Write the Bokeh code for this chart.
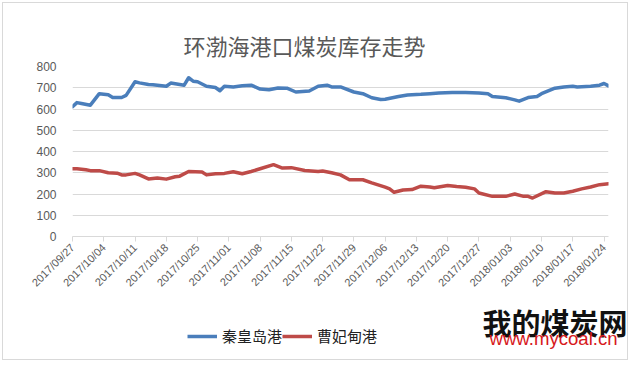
import math
import pandas as pd
from bokeh.plotting import figure
from bokeh.layouts import column
from bokeh.models import FixedTicker, Legend, LegendItem, Label, Range1d
from bokeh.embed import file_html
from bokeh.resources import INLINE

# ---- data ----
start_date = "2017-09-27"

qhd_dates = ["2017-09-27", "2017-09-28", "2017-09-29", "2017-10-01", "2017-10-03", "2017-10-05",
             "2017-10-06", "2017-10-08", "2017-10-09", "2017-10-11", "2017-10-12", "2017-10-14",
             "2017-10-15", "2017-10-18", "2017-10-19", "2017-10-22", "2017-10-23", "2017-10-24",
             "2017-10-25", "2017-10-27", "2017-10-29", "2017-10-30", "2017-10-31", "2017-11-02",
             "2017-11-04", "2017-11-06", "2017-11-08", "2017-11-10", "2017-11-12", "2017-11-14",
             "2017-11-16", "2017-11-19", "2017-11-21", "2017-11-23", "2017-11-24", "2017-11-26",
             "2017-11-29", "2017-12-01", "2017-12-03", "2017-12-05", "2017-12-06", "2017-12-09",
             "2017-12-11", "2017-12-14", "2017-12-16", "2017-12-18", "2017-12-21", "2017-12-24",
             "2017-12-27", "2017-12-29", "2017-12-30", "2018-01-02", "2018-01-04", "2018-01-05",
             "2018-01-07", "2018-01-09", "2018-01-10", "2018-01-13", "2018-01-15", "2018-01-17",
             "2018-01-18", "2018-01-20", "2018-01-21", "2018-01-23", "2018-01-24", "2018-01-25"]
qhd_values = [611, 630, 626, 618, 672, 667,
              654, 654, 664, 728, 723, 715,
              714, 707, 722, 712, 747, 731,
              728, 707, 701, 686, 707, 704,
              709, 712, 694, 691, 699, 698,
              680, 685, 707, 712, 704, 704,
              680, 672, 653, 645, 646, 659,
              666, 669, 672, 675, 678, 678,
              675, 672, 659, 653, 643, 637,
              654, 659, 672, 698, 704, 707,
              704, 706, 707, 712, 720, 709]

cfd_dates = ["2017-09-27", "2017-09-28", "2017-09-30", "2017-10-01", "2017-10-03", "2017-10-05",
             "2017-10-07", "2017-10-08", "2017-10-09", "2017-10-11", "2017-10-12", "2017-10-14",
             "2017-10-16", "2017-10-18", "2017-10-20", "2017-10-21", "2017-10-23", "2017-10-26",
             "2017-10-27", "2017-10-29", "2017-10-31", "2017-11-02", "2017-11-04", "2017-11-06",
             "2017-11-08", "2017-11-11", "2017-11-13", "2017-11-15", "2017-11-18", "2017-11-21",
             "2017-11-22", "2017-11-24", "2017-11-26", "2017-11-28", "2017-12-01", "2017-12-03",
             "2017-12-06", "2017-12-07", "2017-12-08", "2017-12-10", "2017-12-12", "2017-12-14",
             "2017-12-16", "2017-12-17", "2017-12-20", "2017-12-22", "2017-12-24", "2017-12-26",
             "2017-12-27", "2017-12-30", "2018-01-02", "2018-01-04", "2018-01-06", "2018-01-07",
             "2018-01-08", "2018-01-11", "2018-01-13", "2018-01-15", "2018-01-17", "2018-01-19",
             "2018-01-21", "2018-01-23", "2018-01-25"]
cfd_values = [319, 319, 314, 310, 310, 300,
              298, 290, 290, 297, 290, 271,
              275, 270, 281, 284, 306, 303,
              290, 295, 297, 305, 295, 306,
              319, 338, 322, 324, 311, 306,
              308, 300, 290, 267, 267, 252,
              232, 224, 208, 219, 221, 237,
              233, 229, 240, 235, 232, 224,
              205, 189, 189, 200, 189, 189,
              181, 211, 205, 205, 213, 224,
              233, 244, 248]

tick_labels = ["2017/09/27", "2017/10/04", "2017/10/11", "2017/10/18", "2017/10/25", "2017/11/01",
               "2017/11/08", "2017/11/15", "2017/11/22", "2017/11/29", "2017/12/06", "2017/12/13",
               "2017/12/20", "2017/12/27", "2018/01/03", "2018/01/10", "2018/01/17", "2018/01/24"]
y_ticks = [0, 100, 200, 300, 400, 500, 600, 700, 800]

series_names = ["秦皇岛港", "曹妃甸港"]
title_text = "环渤海港口煤炭库存走势"
brand_text = "我的煤炭网"
brand_url = "www.mycoal.cn"

# ---- helpers: dates -> day offsets (category axis, one slot per day) ----
t0 = pd.Timestamp(start_date)


def day_offsets(dates):
    return [(pd.Timestamp(d.replace("/", "-")) - t0).days for d in dates]


qhd_x = day_offsets(qhd_dates)
cfd_x = day_offsets(cfd_dates)
tick_x = day_offsets(tick_labels)
last_day = max(qhd_x + cfd_x)

BLUE = "#4A7EBB"
RED = "#BE4B48"
GREY_TXT = "#595959"
GRID = "#D9D9D9"
W = 630
H_MAIN = 298
H_FOOT = 362 - H_MAIN

# ---- main chart ----
p = figure(width=W, height=H_MAIN, output_backend="svg", toolbar_location=None,
           x_range=Range1d(0, last_day), y_range=Range1d(0, 800),
           min_border_left=72, min_border_right=W - 72 - 536, min_border_top=66, min_border_bottom=62)
p.outline_line_color = None
p.background_fill_alpha = 0
p.border_fill_alpha = 0

p.title.text = title_text
p.title.align = "left"
p.title.offset = 111
p.title.standoff = 11
p.title.text_font = "Noto Sans CJK SC"
p.title.text_font_size = "22px"
p.title.text_font_style = "normal"
p.title.text_color = GREY_TXT

p.xgrid.visible = False
p.ygrid.grid_line_color = GRID
p.ygrid.grid_line_width = 1

p.yaxis.ticker = FixedTicker(ticks=y_ticks)
p.yaxis.axis_line_color = None
p.yaxis.major_tick_line_color = None
p.yaxis.minor_tick_line_color = None
p.yaxis.major_label_text_color = GREY_TXT
p.yaxis.major_label_text_font = "Liberation Sans"
p.yaxis.major_label_text_font_size = "12px"
p.yaxis.major_label_standoff = 10

p.xaxis.ticker = FixedTicker(ticks=tick_x)
p.xaxis.major_label_overrides = {tx: lab for tx, lab in zip(tick_x, tick_labels)}
p.xaxis.major_label_orientation = math.pi / 4
p.xaxis.axis_line_color = GRID
p.xaxis.major_tick_line_color = GRID
p.xaxis.major_tick_out = 5
p.xaxis.major_tick_in = 0
p.xaxis.minor_tick_line_color = None
p.xaxis.major_label_text_color = GREY_TXT
p.xaxis.major_label_text_font = "Liberation Sans"
p.xaxis.major_label_text_font_size = "11px"
p.xaxis.major_label_standoff = 4

p.line(qhd_x, qhd_values, line_color=BLUE, line_width=3.5, line_join="round", line_cap="round")
p.line(cfd_x, cfd_values, line_color=RED, line_width=3.5, line_join="round", line_cap="round")

# ---- footer: legend + watermark (pixel-space frame, y downward) ----
f = figure(width=W, height=H_FOOT, output_backend="svg", toolbar_location=None,
           x_range=Range1d(0, W), y_range=Range1d(H_FOOT, 0),
           min_border=0, min_border_left=0, min_border_right=0, min_border_top=0, min_border_bottom=0)
if "frame_align" in f.properties():
    f.frame_align = False
    p.frame_align = False
f.axis.visible = False
f.grid.visible = False
f.outline_line_color = None
f.background_fill_alpha = 0
f.border_fill_alpha = 0

nan = float("nan")
k1 = f.line(x=[nan], y=[nan], line_color=BLUE, line_width=3.5)
k2 = f.line(x=[nan], y=[nan], line_color=RED, line_width=3.5)
legend = Legend(items=[LegendItem(label=series_names[0], renderers=[k1]),
                       LegendItem(label=series_names[1], renderers=[k2])],
                orientation="horizontal", location=(187, 16),
                padding=0, margin=0, spacing=0, glyph_width=30, glyph_height=20,
                label_standoff=5, label_text_font_size="15px", label_text_font="Noto Sans CJK SC",
                label_text_color="#222222", border_line_color=None, background_fill_alpha=0)
f.add_layout(legend, "center")

f.add_layout(Label(x=482, y=23, text=brand_text, text_align="left", text_baseline="middle",
                   text_font="Noto Sans CJK SC", text_font_size="29px", text_font_style="bold",
                   text_color="#111111"))
f.add_layout(Label(x=489, y=29, text=brand_url, text_align="left", text_baseline="top",
                   text_font="Liberation Sans", text_font_size="18.6px", text_color="#D7191C"))

layout = column(p, f, spacing=0,
                styles={"box-shadow": "inset 0 0 0 2px #FFFFFF, inset 0 0 0 3px #D9D9D9",
                        "background-color": "#FFFFFF"})
open("out.html", "w").write(file_html(layout, INLINE))
